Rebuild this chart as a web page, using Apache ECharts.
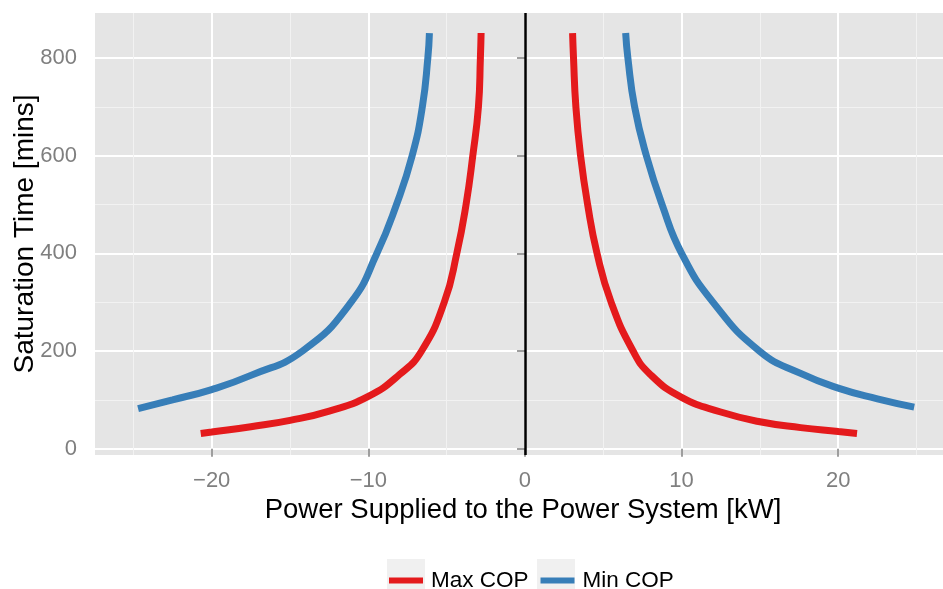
<!DOCTYPE html>
<html><head><meta charset="utf-8">
<script src="https://cdn.jsdelivr.net/npm/echarts@6/dist/echarts.min.js"></script>
<style>html,body{margin:0;padding:0;background:#fff}#c{width:943px;height:589px}</style>
</head><body><div id="c"></div>
<script>
const seriesNames = ['Max COP', 'Min COP'];
const xMajorTicks = [-20, -10, 0, 10, 20];
const xMinorTicks = [-25, -15, -5, 5, 15, 25];
const yMajorTicks = [0, 200, 400, 600, 800];
const yMinorTicks = [100, 300, 500, 700];

const maxCopLeftPower = [-20.7, -20, -17.5, -15, -12.5, -10, -8.0, -6.6, -5.15, -4.35, -3.76, -3.33, -2.97, -2.845, -2.8];
const maxCopLeftTime  = [31, 34, 45, 58, 77, 107, 152, 200, 300, 400, 500, 600, 700, 800, 851];
const maxCopRightPower = [3.04, 3.1, 3.25, 3.55, 4.0, 4.6, 5.5, 6.9, 8.0, 10, 12.5, 15, 17.6, 20, 21.2];
const maxCopRightTime  = [851, 800, 700, 600, 500, 400, 300, 200, 152, 105, 75, 55, 43, 35, 31];
const minCopLeftPower = [-24.7, -22.5, -20, -17.5, -14.2, -11.1, -9.45, -8.2, -7.2, -6.55, -6.2, -6.1];
const minCopLeftTime  = [82, 100, 121, 150, 200, 300, 400, 500, 600, 700, 800, 851];
const minCopRightPower = [6.43, 6.57, 7.0, 7.75, 8.75, 10.0, 12.0, 15.0, 17.6, 20.0, 22.5, 24.85];
const minCopRightTime  = [851, 800, 700, 600, 500, 400, 300, 199, 154, 124, 102, 85];

const FONT = "'Liberation Sans', Arial, Helvetica, sans-serif";
const RED = '#e41a1c', BLUE = '#377eb8';
const pairs = (xs, ys) => xs.map((x, i) => [x, ys[i]]);

function lineSeries(name, color, xs, ys, extra) {
  return Object.assign({
    name: name, type: 'line', data: pairs(xs, ys),
    symbol: 'none', showSymbol: false, smooth: 0.5,
    lineStyle: { width: 7, color: color, cap: 'butt' },
    itemStyle: { color: color }, z: 3
  }, extra || {});
}

const chart = echarts.init(document.getElementById('c'), null, { renderer: 'canvas' });
const xCommon = { type: 'value', min: -27.45, max: 27.2, position: 'bottom', axisLine: { show: false } };
const yCommon = { type: 'value', min: -13, max: 892, position: 'left', axisLine: { show: false } };

chart.setOption({
  animation: false,
  backgroundColor: '#ffffff',
  textStyle: { fontFamily: FONT },
  grid: { left: 95, right: -8, top: 13, bottom: 134, show: true, backgroundColor: '#e5e5e5', borderWidth: 0,
    containLabel: false, outerBoundsMode: 'none' },
  xAxis: [
    Object.assign({}, xCommon, {
      name: 'Power Supplied to the Power System [kW]', nameLocation: 'middle', nameGap: 41, nameMoveOverlap: false,
      nameTextStyle: { fontSize: 27.5, color: '#000', fontFamily: FONT },
      axisTick: { show: true, length: 8, customValues: xMajorTicks, lineStyle: { color: '#7f7f7f', width: 1.5 } },
      axisLabel: { customValues: xMajorTicks, fontSize: 22, color: '#7f7f7f', margin: 15, fontFamily: FONT,
        formatter: v => String(v).replace('-', '\u2212') },
      splitLine: { show: true, lineStyle: { color: '#ffffff', width: 2 } }
    }),
    Object.assign({}, xCommon, {
      axisTick: { show: false, customValues: xMinorTicks },
      axisLabel: { show: false, customValues: xMinorTicks },
      splitLine: { show: true, lineStyle: { color: '#f2f2f2', width: 1 } }
    })
  ],
  yAxis: [
    Object.assign({}, yCommon, {
      name: 'Saturation Time [mins]', nameLocation: 'middle', nameGap: 56, nameMoveOverlap: false,
      nameTextStyle: { fontSize: 28, color: '#000', fontFamily: FONT },
      axisTick: { show: true, length: 8, customValues: yMajorTicks, lineStyle: { color: '#7f7f7f', width: 1.5 } },
      axisLabel: { customValues: yMajorTicks, fontSize: 22, color: '#7f7f7f', margin: 18, fontFamily: FONT },
      splitLine: { show: true, lineStyle: { color: '#ffffff', width: 2 } }
    }),
    Object.assign({}, yCommon, {
      axisTick: { show: false, customValues: yMinorTicks },
      axisLabel: { show: false, customValues: yMinorTicks },
      splitLine: { show: true, lineStyle: { color: '#f2f2f2', width: 1 } }
    })
  ],
  legend: {
    left: 384, top: 564, itemWidth: 34, itemHeight: 6, itemGap: 12, icon: 'rect', z: 5,
    data: seriesNames,
    textStyle: { fontSize: 22.5, color: '#000', fontFamily: FONT, padding: [0, 0, 0, 3] }
  },
  graphic: [
    { type: 'rect', z: 0, shape: { x: 387, y: 559, width: 38, height: 30 }, style: { fill: '#f0f0f0' } },
    { type: 'rect', z: 0, shape: { x: 537, y: 559, width: 38, height: 30 }, style: { fill: '#f0f0f0' } }
  ],
  series: [
    lineSeries(seriesNames[0], RED, maxCopLeftPower, maxCopLeftTime, {
      markLine: { silent: true, symbol: ['none', 'none'], label: { show: false },
        lineStyle: { color: '#000', width: 2.5, type: 'solid' }, data: [{ xAxis: 0 }] }
    }),
    lineSeries(seriesNames[0], RED, maxCopRightPower, maxCopRightTime),
    lineSeries(seriesNames[1], BLUE, minCopLeftPower, minCopLeftTime),
    lineSeries(seriesNames[1], BLUE, minCopRightPower, minCopRightTime)
  ]
});
</script></body></html>
